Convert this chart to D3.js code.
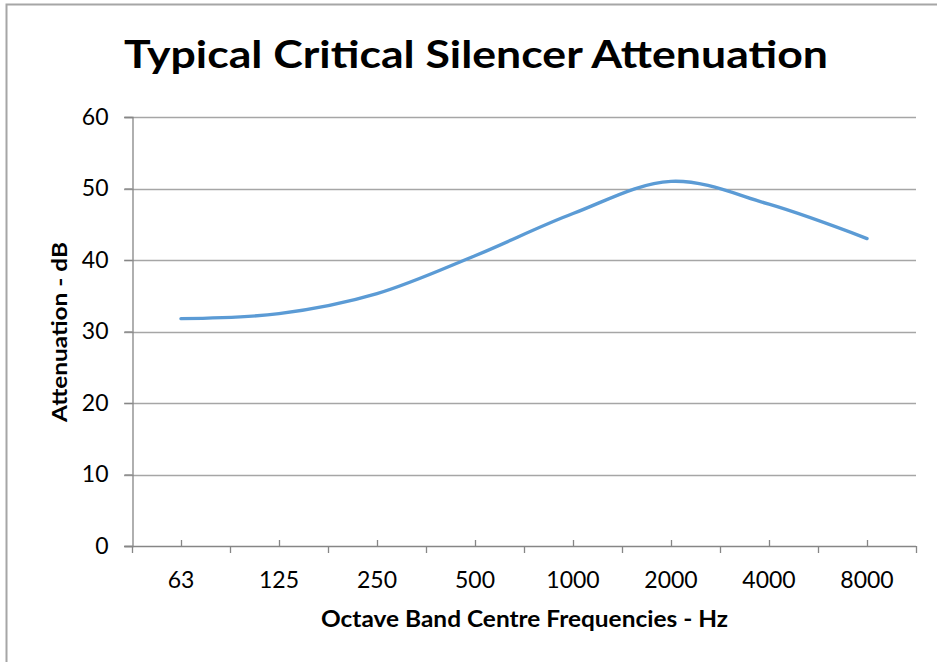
<!DOCTYPE html>
<html>
<head>
<meta charset="utf-8">
<script src="https://cdn.jsdelivr.net/npm/d3@7"></script>
<style>
  html, body { margin: 0; padding: 0; background: #fff; }
  svg { display: block; }
  text { font-family: Lato, "Open Sans", sans-serif; fill: #000; }
</style>
</head>
<body>
<svg id="chart" width="937" height="662"></svg>
<script>
const categories = ["63", "125", "250", "500", "1000", "2000", "4000", "8000"];
const attenuation = [31.8, 32.5, 35.3, 40.6, 46.5, 51.0, 47.8, 43.0];
const yTicks = [0, 10, 20, 30, 40, 50, 60];
const titleText = "Typical Critical Silencer Attenuation";
const xTitle = "Octave Band Centre Frequencies - Hz";
const yTitle = "Attenuation - dB";

const svg = d3.select("#chart");
const plot = { left: 132, right: 916, top: 117, bottom: 546 };

// chart border (cropped: only top and left visible)
svg.append("rect")
  .attr("x", 6.5).attr("y", 4.5)
  .attr("width", 1000).attr("height", 800)
  .attr("fill", "none").attr("stroke", "#A6A6A6").attr("stroke-width", 2);

const x = d3.scaleBand().domain(categories).range([plot.left, plot.right]);
const y = d3.scaleLinear().domain([0, 60]).range([plot.bottom, plot.top]);

// gridlines
svg.append("g").selectAll("line")
  .data(yTicks.filter(d => d > 0))
  .join("line")
  .attr("x1", plot.left - 8).attr("x2", plot.right)
  .attr("y1", d => Math.round(y(d)) + 0.5).attr("y2", d => Math.round(y(d)) + 0.5)
  .attr("stroke", "#A6A6A6").attr("stroke-width", 1.3);

// y axis
const yAxis = svg.append("g")
  .attr("transform", `translate(${plot.left + 0.5},0)`)
  .call(d3.axisLeft(y).tickValues(yTicks).tickSize(8).tickPadding(16).tickFormat(d3.format("d")));
yAxis.select(".domain").attr("stroke", "#868686").attr("stroke-width", 1.3);
yAxis.selectAll(".tick line").attr("stroke", "#868686").attr("stroke-width", 1.3);
yAxis.selectAll(".tick text")
  .style("font-family", "Lato, sans-serif").style("font-size", "23px").attr("fill", "#000");

// x axis line
svg.append("line")
  .attr("x1", plot.left - 8).attr("x2", plot.right)
  .attr("y1", plot.bottom + 0.5).attr("y2", plot.bottom + 0.5)
  .attr("stroke", "#868686").attr("stroke-width", 1.3);

// boundary ticks (outside)
const bounds = categories.map(c => x(c)).concat([x(categories[categories.length - 1]) + x.bandwidth()]);
svg.append("g").selectAll("line").data(bounds).join("line")
  .attr("x1", d => Math.round(d) + 0.5).attr("x2", d => Math.round(d) + 0.5)
  .attr("y1", plot.bottom).attr("y2", plot.bottom + 7)
  .attr("stroke", "#868686").attr("stroke-width", 1.3);

// centre ticks (inside)
svg.append("g").selectAll("line").data(categories).join("line")
  .attr("x1", d => Math.round(x(d) + x.bandwidth() / 2) + 0.5)
  .attr("x2", d => Math.round(x(d) + x.bandwidth() / 2) + 0.5)
  .attr("y1", plot.bottom - 6).attr("y2", plot.bottom)
  .attr("stroke", "#868686").attr("stroke-width", 1.3);

// x tick labels
svg.append("g").selectAll("text").data(categories).join("text")
  .attr("x", d => x(d) + x.bandwidth() / 2)
  .attr("y", 588)
  .attr("text-anchor", "middle")
  .style("font-size", "23px")
  .text(d => d);

// series line
const line = d3.line()
  .x((d, i) => x(categories[i]) + x.bandwidth() / 2)
  .y(d => y(d))
  .curve(d3.curveCatmullRom.alpha(0));
svg.append("path")
  .datum(attenuation)
  .attr("d", line)
  .attr("fill", "none")
  .attr("stroke", "#5B9BD5")
  .attr("stroke-width", 3.4)
  .attr("stroke-linecap", "round")
  .attr("stroke-linejoin", "round");

// title
svg.append("text")
  .attr("x", 476).attr("y", 68)
  .attr("text-anchor", "middle")
  .style("font-size", "38px").style("font-weight", "bold")
  .attr("textLength", 704).attr("lengthAdjust", "spacingAndGlyphs")
  .text(titleText);

// x title
svg.append("text")
  .attr("x", 524.5).attr("y", 627)
  .attr("text-anchor", "middle")
  .style("font-size", "22px").style("font-weight", "bold")
  .attr("textLength", 407).attr("lengthAdjust", "spacingAndGlyphs")
  .text(xTitle);

// y title
svg.append("text")
  .attr("transform", "translate(67,332) rotate(-90)")
  .attr("text-anchor", "middle")
  .style("font-size", "21px").style("font-weight", "bold")
  .attr("textLength", 180).attr("lengthAdjust", "spacingAndGlyphs")
  .text(yTitle);
</script>
</body>
</html>
